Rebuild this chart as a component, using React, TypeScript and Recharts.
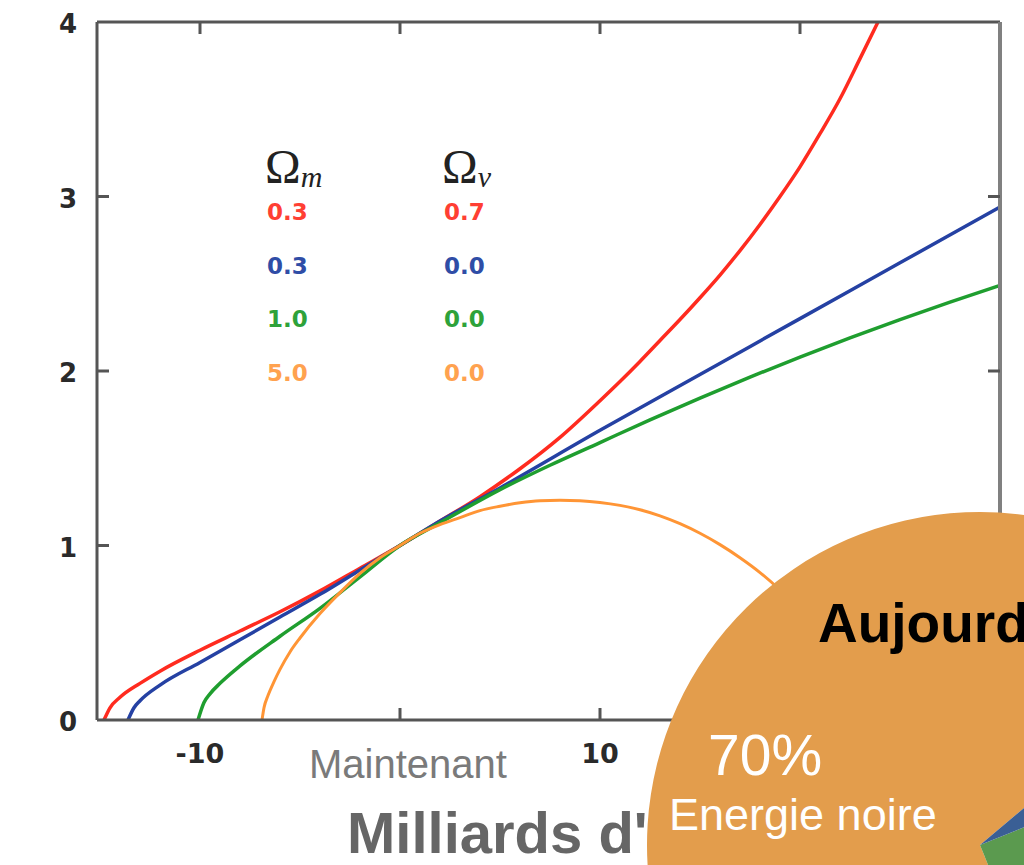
import React from 'react';
import { LineChart, Line, XAxis, YAxis, PieChart, Pie, Cell } from 'recharts';

// scale factor vs. time
const redCurve = [
  [-14.8, 0], [-14.5, 0.07], [-14, 0.13], [-13, 0.21], [-12, 0.28], [-10, 0.4], [-8, 0.51],
  [-6, 0.62], [-4, 0.74], [-2, 0.87], [0, 1.0], [2, 1.14], [4, 1.28], [6, 1.44], [8, 1.62],
  [10, 1.83], [11, 1.94], [12, 2.055], [13, 2.175], [14, 2.295], [15, 2.42], [16, 2.55],
  [17, 2.69], [18, 2.84], [19, 3.0], [20, 3.17], [21, 3.36], [22, 3.56], [23, 3.79], [23.9, 4.0],
];
const blueCurve = [
  [-13.6, 0], [-13.3, 0.07], [-13, 0.11], [-12, 0.2], [-10, 0.33], [-8, 0.46], [-6, 0.59],
  [-4, 0.72], [-2, 0.86], [0, 1.0], [2, 1.14], [5, 1.33], [10, 1.66], [15, 1.98], [20, 2.3],
  [25, 2.62], [30, 2.94],
];
const greenCurve = [
  [-10.1, 0], [-9.8, 0.1], [-9.5, 0.15], [-9, 0.21], [-8, 0.31], [-6, 0.48], [-4, 0.64],
  [-2, 0.82], [0, 1.0], [2, 1.13], [5, 1.32], [7.5, 1.46], [10, 1.59], [12.5, 1.72], [15, 1.845],
  [17.5, 1.965], [20, 2.08], [22.5, 2.19], [25, 2.295], [27.5, 2.395], [30, 2.49],
];
const orangeCurve = [
  [-6.9, 0], [-6.8, 0.07], [-6.6, 0.14], [-6.3, 0.22], [-6, 0.29], [-5.5, 0.39], [-5, 0.47],
  [-4, 0.61], [-3, 0.73], [-2, 0.84], [-1, 0.93], [0, 1.0], [1, 1.07], [2, 1.12], [3, 1.16],
  [4, 1.2], [5, 1.225], [6, 1.245], [7, 1.257], [8, 1.26], [9, 1.257], [10, 1.247], [11, 1.23],
  [12, 1.205], [13, 1.17], [14, 1.125], [15, 1.07], [16, 1.005], [17, 0.93], [18, 0.845],
  [19, 0.745], [20, 0.63], [21, 0.49], [22, 0.31], [22.5, 0.19], [22.9, 0],
];

const omegaM = ['0.3', '0.3', '1.0', '5.0'];
const omegaV = ['0.7', '0.0', '0.0', '0.0'];

const xTicks = [-10, 0, 10, 20];
const yTicks = [0, 1, 2, 3, 4];

const pieData = [
  { name: 'Energie noire', value: 70 },
  { name: 'Matière noire', value: 25 },
  { name: 'Atomes', value: 5 },
];

const LINE_COLORS = ['#ff2b1f', '#2541a3', '#1f9e2f', '#ff9535'];
const TEXT_COLORS = ['#ff3f33', '#2f4da6', '#2ea23a', '#ffa24f'];
const PIE_COLORS = ['#e39d4c', '#5b9a4f', '#3a5f95'];

const toPts = (arr: number[][]) => arr.map(([x, y]) => ({ x, y }));

const AXIS = '#555';

const LeftTick = ({ x, y, payload }: any) => (
  <g>
    {payload.value > 0 && payload.value < 4 && (
      <line x1={x} x2={x + 12} y1={y} y2={y} stroke={AXIS} strokeWidth={3} />
    )}
    <text x={x - 20} y={y + 2} textAnchor="end" dominantBaseline="central"
      fontFamily="DejaVu Sans" fontWeight="bold" fontSize={26} fill="#2a2a2a">
      {payload.value}
    </text>
  </g>
);

const RightTick = ({ x, y, payload }: any) =>
  payload.value > 0 && payload.value < 4 ? (
    <line x1={x} x2={x - 12} y1={y} y2={y} stroke={AXIS} strokeWidth={3} />
  ) : null;

const TopTick = ({ x, y }: any) => (
  <line x1={x} x2={x} y1={y} y2={y + 12} stroke={AXIS} strokeWidth={3} />
);

const BottomTick = ({ x, y, payload }: any) => {
  const v = payload.value;
  return (
    <g>
      {v >= 0 && <line x1={x} x2={x} y1={y} y2={y - 12} stroke={AXIS} strokeWidth={3} />}
      {v === 0 ? (
        <text x={x + 8} y={y + 44} textAnchor="middle" dominantBaseline="central"
          fontFamily="Liberation Sans" fontSize={40} fill="#7a7a7a">
          Maintenant
        </text>
      ) : (
        <text x={x} y={y + 33} textAnchor="middle" dominantBaseline="central"
          fontFamily="DejaVu Sans" fontWeight="bold" fontSize={27} fill="#2a2a2a">
          {v}
        </text>
      )}
    </g>
  );
};

const App: React.FC = () => {
  const series = [redCurve, blueCurve, greenCurve, orangeCurve];
  return (
    <div style={{ position: 'absolute', left: 0, top: 0, width: 1024, height: 865, background: '#fff', overflow: 'hidden' }}>
      <div style={{ position: 'absolute', left: 0, top: 0 }}>
        <LineChart width={1024} height={865} margin={{ top: 21, right: 23, bottom: 115, left: 37 }}>
          <XAxis dataKey="x" type="number" domain={[-15.15, 30]} ticks={xTicks} allowDataOverflow
            height={30} tickSize={0} tickMargin={0} tick={<BottomTick />}
            axisLine={{ stroke: AXIS, strokeWidth: 3 }} tickLine={false} />
          <XAxis xAxisId="top" orientation="top" dataKey="x" type="number" domain={[-15.15, 30]}
            ticks={xTicks} height={1} tickSize={0} tickMargin={0} tick={<TopTick />} allowDataOverflow
            axisLine={{ stroke: AXIS, strokeWidth: 3 }} tickLine={false} />
          <YAxis type="number" domain={[0, 4]} ticks={yTicks} width={60} tickSize={0} tickMargin={0}
            tick={<LeftTick />} axisLine={{ stroke: AXIS, strokeWidth: 3 }} tickLine={false} allowDataOverflow />
          <YAxis yAxisId="right" orientation="right" type="number" domain={[0, 4]} ticks={yTicks} width={1}
            tickSize={0} tickMargin={0} tick={<RightTick />} allowDataOverflow
            axisLine={{ stroke: '#808080', strokeWidth: 4 }} tickLine={false} />
          {/* carries the top/right frame axes, draws nothing */}
          <Line xAxisId="top" yAxisId="right" data={toPts(blueCurve)} dataKey="y" stroke="none"
            dot={false} activeDot={false} isAnimationActive={false} legendType="none" />
          {series.map((s, i) => (
            <Line key={i} data={toPts(s)} dataKey="y" type="monotone" stroke={LINE_COLORS[i]}
              strokeWidth={i === 3 ? 3 : 3.5} dot={false} isAnimationActive={false} />
          ))}
        </LineChart>
      </div>

      <svg width={1024} height={865} style={{ position: 'absolute', left: 0, top: 0 }}>
        <text x={265} y={183} fontFamily="Liberation Serif" fontSize={48} fill="#222">
          Ω<tspan fontSize={30} fontStyle="italic" dy={4}>m</tspan>
        </text>
        <text x={442} y={183} fontFamily="Liberation Serif" fontSize={48} fill="#222">
          Ω<tspan fontSize={30} fontStyle="italic" dy={4}>v</tspan>
        </text>
        {omegaM.map((m, i) => (
          <text key={`m${i}`} x={267} y={220 + i * 53.5} fontFamily="DejaVu Sans" fontWeight="bold"
            fontSize={23} fill={TEXT_COLORS[i]}>{m}</text>
        ))}
        {omegaV.map((v, i) => (
          <text key={`v${i}`} x={444} y={220 + i * 53.5} fontFamily="DejaVu Sans" fontWeight="bold"
            fontSize={23} fill={TEXT_COLORS[i]}>{v}</text>
        ))}
        <text x={347} y={853} fontFamily="Liberation Sans" fontWeight="bold" fontSize={58} fill="#666">
          Milliards d'années
        </text>
      </svg>

      <div style={{ position: 'absolute', left: 0, top: 0 }}>
        <PieChart width={1024} height={865} margin={{ top: 0, right: 0, bottom: 0, left: 0 }}>
          <Pie data={pieData} dataKey="value" nameKey="name" cx={980} cy={845} outerRadius={333}
            startAngle={40} endAngle={400} stroke="none" isAnimationActive={false}>
            {pieData.map((d, i) => (
              <Cell key={d.name} fill={PIE_COLORS[i]} />
            ))}
          </Pie>
        </PieChart>
      </div>

      <svg width={1024} height={865} style={{ position: 'absolute', left: 0, top: 0 }}>
        <text x={818} y={642} fontFamily="Liberation Sans" fontWeight="bold" fontSize={55} fill="#000">
          Aujourd'hui
        </text>
        <text x={708} y={775} fontFamily="Liberation Sans" fontWeight={300} fontSize={57} fill="#fff">
          70%
        </text>
        <text x={669} y={830} fontFamily="Liberation Sans" fontSize={45} fill="#fff">
          Energie noire
        </text>
      </svg>
    </div>
  );
};

export default App;
